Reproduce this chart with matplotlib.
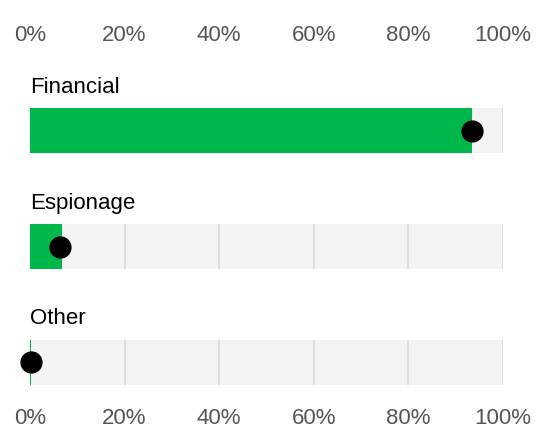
import numpy as np
import matplotlib.pyplot as plt

plt.rcParams['font.family'] = ['Liberation Sans', 'DejaVu Sans']

# Data
categories = ['Financial', 'Espionage', 'Other']
bar_values = [93.4, 6.8, 0.3]   # green bar length (%)
dot_values = [93.5, 6.3, 0.2]   # black dot position (%)
ticks = [0, 20, 40, 60, 80, 100]

green = '#00b84a'
track = '#f4f4f4'
grid = '#d9d9d9'

fig = plt.figure(figsize=(5.38, 4.28), dpi=100)
ax = fig.add_axes([30 / 538, 1 - 397 / 428, 473 / 538, 301 / 428])

y = np.arange(len(categories))
h = 0.39

# background tracks
ax.barh(y, 100, height=h, color=track, zorder=1)
# gridlines inside each track
for yi in y:
    ax.vlines(ticks[1:], yi - h / 2, yi + h / 2, color=grid, lw=1.2, zorder=2)
# values
ax.barh(y, bar_values, height=h, color=green, zorder=3)
ax.plot(dot_values, y, 'o', color='black', markersize=15, zorder=4, clip_on=False)

for yi, name in zip(y, categories):
    ax.text(0, yi - h / 2 - 0.09, name, fontsize=16, color='black',
            ha='left', va='bottom')

labels = [f'{t}%' for t in ticks]
ax.set_xlim(0, 100)
ax.set_ylim(2.3, -0.3)
ax.set_xticks(ticks)
ax.set_xticklabels(labels)
ax.tick_params(axis='x', length=0, labelsize=16, labelcolor='#555555', pad=8)

top = ax.secondary_xaxis('top')
top.set_xticks(ticks)
top.set_xticklabels(labels)
top.tick_params(length=0, labelsize=16, labelcolor='#555555', pad=36)
top.spines['top'].set_visible(False)

ax.set_yticks([])
for s in ax.spines.values():
    s.set_visible(False)

fig.savefig('out.png', dpi=100)
